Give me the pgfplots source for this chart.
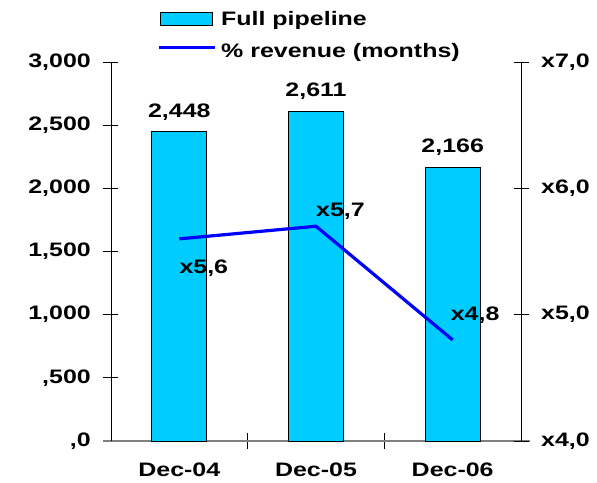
\documentclass[border=0pt]{standalone}
\usepackage{fontspec}
\setmainfont{Liberation Sans}[FakeStretch=1.28]
\usepackage{pgfplots}
\pgfplotsset{compat=1.18}
\definecolor{barcyan}{RGB}{0,204,255}
\definecolor{lineblue}{RGB}{0,0,255}
\begin{document}
\fontsize{19.5bp}{23bp}\selectfont\bfseries
\begin{tikzpicture}
\useasboundingbox (-111bp,-42bp) rectangle (486bp,441bp);
% pipeline bars on the left scale
\begin{axis}[
  at={(0,0)}, anchor=south west,
  scale only axis, width=410bp, height=379bp,
  xmin=0.5, xmax=3.5, ymin=0, ymax=3000,
  axis y line*=left, axis x line*=bottom,
  x axis line style={draw=gray, line width=1.4bp, shorten <=-8bp, shorten >=-9bp},
  y axis line style={line width=0.8bp},
  xtick={1.5,2.5}, xticklabels={},
  extra x ticks={1,2,3}, extra x tick labels={Dec-04,Dec-05,Dec-06},
  extra x tick style={major tick length=0pt},
  xticklabel style={anchor=base, inner sep=0pt, yshift=-35bp},
  ytick={0,500,1000,1500,2000,2500,3000},
  yticklabels={{,0},{,500},{1,000},{1,500},{2,000},{2,500},{3,000}},
  yticklabel style={anchor=east, inner sep=0pt, xshift=-12.5bp},
  tick align=center, major tick length=15bp,
  tick style={black, line width=0.8bp},
  /pgf/number format/.cd, fixed, precision=0, 1000 sep={,}, assume math mode=true,
  /pgfplots/.cd,
  clip=false,
]
\addplot[ybar, bar width=55bp, bar shift=0pt, fill=barcyan, draw=black, line width=0.8bp,
  nodes near coords,
  every node near coord/.append style={anchor=south, inner sep=0pt, yshift=11bp, black}]
  coordinates {(1,2448) (2,2611) (3,2166)};
\end{axis}
% revenue multiple on the right scale
\begin{axis}[
  at={(0,0)}, anchor=south west,
  scale only axis, width=410bp, height=379bp,
  xmin=0.5, xmax=3.5, ymin=4, ymax=7,
  axis y line*=right, axis x line=none,
  y axis line style={line width=0.8bp},
  ytick={4,5,6,7},
  yticklabels={{x4,0},{x5,0},{x6,0},{x7,0}},
  yticklabel style={anchor=west, inner sep=0pt, xshift=12.5bp},
  tick align=center, major tick length=15bp,
  tick style={black, line width=0.8bp},
  clip=false,
]
\addplot[lineblue, line width=3.2bp, mark=none] coordinates {(1,5.6) (2,5.7) (3,4.8)};
\node[anchor=base west, inner sep=0pt, yshift=-34.4bp] at (axis cs:1,5.6) {x5,6};
\node[anchor=base west, inner sep=0pt, yshift=10.2bp] at (axis cs:2,5.7) {x5,7};
\node[anchor=base west, inner sep=0pt, xshift=-2bp, yshift=19.9bp] at (axis cs:3,4.8) {x4,8};
\end{axis}
% legend
\draw[fill=barcyan, line width=0.8bp] (49bp,416bp) rectangle (101bp,428.3bp);
\draw[lineblue, line width=3.2bp] (48bp,393.7bp) -- (104bp,393.7bp);
\node[anchor=base west, inner sep=0pt] at (110bp,415.3bp) {Full pipeline};
\node[anchor=base west, inner sep=0pt] at (110bp,383.7bp) {\% revenue (months)};
\end{tikzpicture}
\end{document}
